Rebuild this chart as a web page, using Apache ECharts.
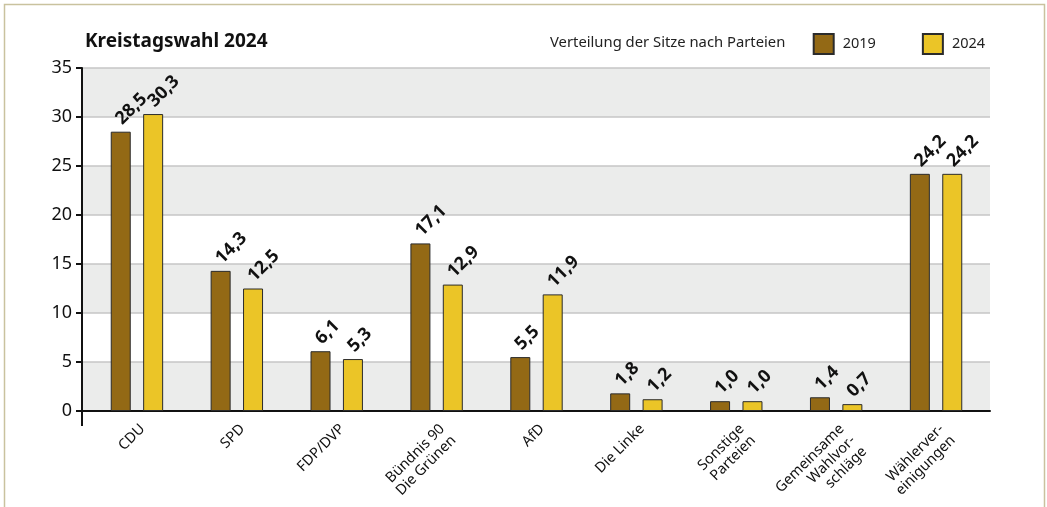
<!DOCTYPE html>
<html><head><meta charset="utf-8">
<script src="https://cdn.jsdelivr.net/npm/echarts@6/dist/echarts.min.js"></script>
<style>html,body{margin:0;padding:0;background:#fff}#c{width:1047px;height:507px}</style>
</head><body><div id="c"></div>
<script>
const categories = ['CDU','SPD','FDP/DVP','Bündnis 90\nDie Grünen','AfD','Die Linke','Sonstige\nParteien','Gemeinsame\nWahlvor-\nschläge','Wählerver-\neinigungen'];
const seats2019 = [28.5,14.3,6.1,17.1,5.5,1.8,1.0,1.4,24.2];
const seats2024 = [30.3,12.5,5.3,12.9,11.9,1.2,1.0,0.7,24.2];
const seriesNames = ['2019','2024'];
const yTicks = {min:0,max:35,interval:5};

const FONT = '"Noto Sans", "Open Sans", sans-serif';
const chart = echarts.init(document.getElementById('c'), null, {renderer:'canvas'});
const fmt = p => p.value.toFixed(1).replace('.', ',');
function barSeries(name, data, color){
  return {
    name, type:'bar', data, barWidth:20, barGap:'62%', xAxisIndex:1, yAxisIndex:1,
    itemStyle:{color, borderColor:'#2b2b2b', borderWidth:1},
    label:{show:true, position:'top', rotate:45, align:'left', verticalAlign:'middle',
      offset:[2,-5], formatter:fmt, fontFamily:FONT, fontWeight:'bold', fontSize:18, color:'#111'}
  };
}
chart.setOption({
  animation:false,
  textStyle:{fontFamily:FONT},
  title:[{text:'Kreistagswahl 2024', left:80, top:27, textStyle:{fontFamily:FONT, fontWeight:'bold', fontSize:19, color:'#111'}},
         {text:'Verteilung der Sitze nach Parteien', left:545, top:30, textStyle:{fontFamily:FONT, fontWeight:'normal', fontSize:14.8, color:'#222'}}],
  legend:{data:seriesNames, left:807.7, top:28, itemWidth:20, itemHeight:20, itemGap:46,
    textStyle:{fontFamily:FONT, fontSize:14.5, color:'#222', padding:[0,0,0,4]}, icon:'rect'},
  grid:[{left:82, right:57, top:68, bottom:96, outerBoundsMode:'none', containLabel:false},
        {left:87, right:61, top:68, bottom:96, outerBoundsMode:'none', containLabel:false}],
  xAxis:[{type:'value', gridIndex:0, min:0, max:1, axisLabel:{show:false}, axisTick:{show:false}, splitLine:{show:false},
          axisLine:{show:true, lineStyle:{color:'#111', width:2}}},
         {type:'category', gridIndex:1, data:categories,
          axisLine:{show:false}, axisTick:{show:false},
          axisLabel:{rotate:45, verticalAlign:'top', fontFamily:FONT, fontSize:14.5, color:'#111', margin:10, interval:0, lineHeight:16}}],
  yAxis:[{type:'value', gridIndex:0, min:yTicks.min, max:yTicks.max, interval:yTicks.interval,
    axisLine:{show:true, lineStyle:{color:'#111', width:2}},
    axisTick:{show:true, length:6, lineStyle:{color:'#111', width:2}},
    axisLabel:{fontFamily:FONT, fontSize:18, color:'#111', margin:10},
    splitLine:{lineStyle:{color:'#c6c6c6', width:1.5}},
    splitArea:{show:true, areaStyle:{color:['#ebeceb','#ffffff']}}},
    {type:'value', gridIndex:1, min:yTicks.min, max:yTicks.max, interval:yTicks.interval, show:false}],
  graphic:[
    {type:'rect', shape:{x:4.5, y:4.5, width:1040, height:520}, style:{fill:null, stroke:'#c9c29e', lineWidth:1.5}, silent:true},
    {type:'line', shape:{x1:82, y1:411, x2:82, y2:426}, style:{stroke:'#111', lineWidth:2}, silent:true}
  ],
  series:[barSeries(seriesNames[0], seats2019, '#936915'), barSeries(seriesNames[1], seats2024, '#ebc527')]
});
</script></body></html>
